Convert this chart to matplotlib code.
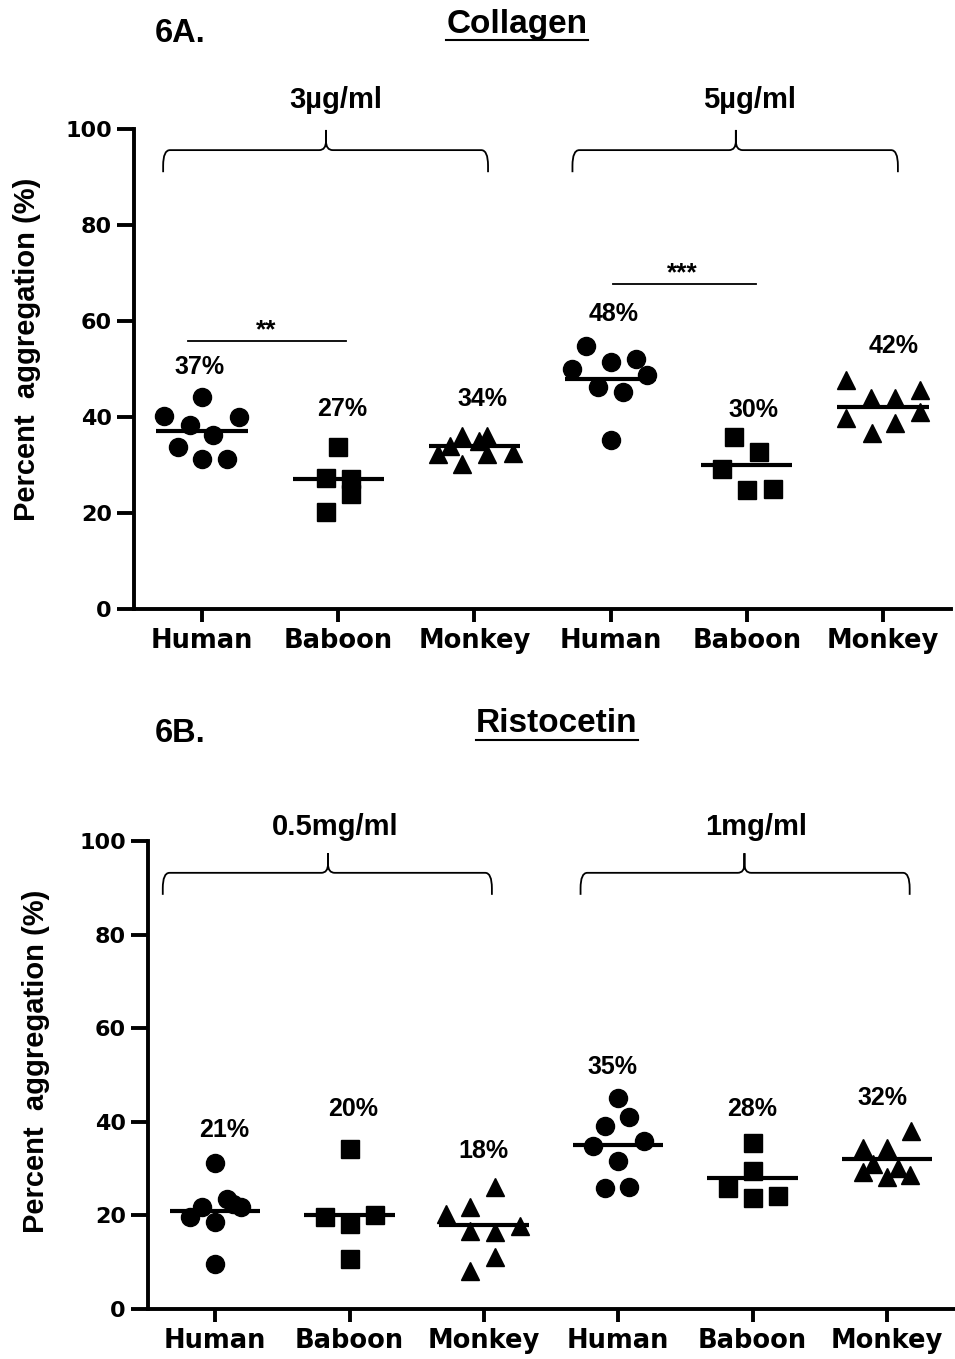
import matplotlib
matplotlib.use("Agg")
import matplotlib.pyplot as plt
from matplotlib.path import Path
from matplotlib.patches import PathPatch
from matplotlib.lines import Line2D

# ---------------- data ----------------
groups = ["Human", "Baboon", "Monkey", "Human", "Baboon", "Monkey"]

# Collagen (panel 6A): 3 ug/ml then 5 ug/ml
col_human_3 = [44.2, 40.2, 39.9, 38.3, 36.3, 33.8, 31.3, 31.3]
col_baboon_3 = [33.8, 27.2, 27.1, 23.9, 20.3]
col_monkey_3 = [32.3, 33.9, 36.0, 30.3, 35.0, 36.0, 32.2, 32.4]
col_human_5 = [54.8, 50.0, 51.4, 52.0, 48.8, 46.3, 45.3, 35.2]
col_baboon_5 = [35.9, 32.8, 29.2, 24.8, 25.1]
col_monkey_5 = [47.7, 43.9, 43.9, 45.6, 39.7, 36.6, 38.7, 41.1]
col_means = [37, 27, 34, 48, 30, 42]

# Ristocetin (panel 6B): 0.5 mg/ml then 1 mg/ml
ris_human_05 = [31.1, 21.8, 19.6, 23.5, 21.8, 18.6, 9.7, 22.5]
ris_baboon_05 = [34.1, 19.6, 18.2, 20.1, 10.6]
ris_monkey_05 = [20.3, 21.9, 26.0, 17.8, 16.7, 16.5, 11.1, 8.2]
ris_human_1 = [45.1, 41.0, 39.0, 34.9, 36.0, 31.7, 25.8, 26.0]
ris_baboon_1 = [35.5, 29.5, 25.8, 23.7, 24.2]
ris_monkey_1 = [38.0, 34.3, 34.3, 30.9, 29.3, 30.1, 28.3, 28.7]
ris_means = [21, 20, 18, 35, 28, 32]

col_doses = ["3\u00b5g/ml", "5\u00b5g/ml"]
ris_doses = ["0.5mg/ml", "1mg/ml"]

# ---------------- layout (horizontal scatter offsets, label spots) ----------------
col_offsets = [
    [0.0, -0.28, 0.27, -0.09, 0.08, -0.18, 0.0, 0.18],
    [0.0, -0.09, 0.09, 0.09, -0.09],
    [-0.27, -0.18, -0.09, -0.09, 0.03, 0.09, 0.09, 0.28],
    [-0.18, -0.28, 0.0, 0.19, 0.27, -0.09, 0.09, 0.0],
    [-0.09, 0.09, -0.18, 0.0, 0.19],
    [-0.27, -0.09, 0.09, 0.27, -0.27, -0.08, 0.09, 0.27],
]
ris_offsets = [
    [0.0, -0.10, -0.19, 0.09, 0.19, 0.0, 0.0, 0.13],
    [0.0, -0.18, 0.0, 0.19, 0.0],
    [-0.28, -0.10, 0.08, 0.27, -0.10, 0.08, 0.08, -0.10],
    [0.0, 0.08, -0.10, -0.19, 0.19, 0.0, -0.10, 0.08],
    [0.0, 0.0, -0.18, 0.0, 0.19],
    [0.18, -0.18, 0.0, -0.10, -0.18, 0.08, 0.0, 0.17],
]
col_label_pos = [(-0.02, 50.4), (1.03, 41.7), (2.06, 43.8),
                 (3.02, 61.5), (4.05, 41.5), (5.08, 54.8)]
ris_label_pos = [(0.07, 38.2), (1.03, 42.7), (2.0, 33.8),
                 (2.96, 51.7), (4.0, 42.7), (4.97, 45.1)]

markers = ["o", "s", "^", "o", "s", "^"]
marker_sizes = [13, 13.5, 13, 13, 13.5, 13]

BOLD = dict(family="Liberation Sans", fontweight="bold")

fig = plt.figure(figsize=(9.55, 13.59), dpi=100)
W, H = 955, 1359
axA = fig.add_axes([134 / W, 1 - 609 / H, (951 - 134) / W, 480 / H])
axB = fig.add_axes([148 / W, 1 - 1309 / H, (954 - 148) / W, 468 / H])


def brace(ax, x0, x1, xc, y_end, y_bar, y_peak):
    rx, ry = 0.05, (y_bar - y_end) * 0.7
    cx, cy = 0.05, (y_peak - y_bar) * 0.45
    verts = [
        (x0, y_end), (x0, y_bar - ry),
        (x0, y_bar), (x0 + rx, y_bar),
        (xc - cx, y_bar),
        (xc, y_bar), (xc, y_bar + cy),
        (xc, y_peak),
        (xc, y_bar + cy),
        (xc, y_bar), (xc + cx, y_bar),
        (x1 - rx, y_bar),
        (x1, y_bar), (x1, y_bar - ry),
        (x1, y_end),
    ]
    codes = [Path.MOVETO, Path.LINETO,
             Path.CURVE3, Path.CURVE3,
             Path.LINETO,
             Path.CURVE3, Path.CURVE3,
             Path.LINETO,
             Path.LINETO,
             Path.CURVE3, Path.CURVE3,
             Path.LINETO,
             Path.CURVE3, Path.CURVE3,
             Path.LINETO]
    ax.add_patch(PathPatch(Path(verts, codes), fill=False, lw=1.3,
                           color="black", clip_on=False, capstyle="butt"))


def draw_panel(ax, series, offsets, means, label_pos):
    for i, vals in enumerate(series):
        xs = [i + o for o in offsets[i]]
        ax.plot(xs, vals, linestyle="none", marker=markers[i],
                markersize=marker_sizes[i], color="black", clip_on=False,
                zorder=3)
        ax.plot([i - 0.335, i + 0.335], [means[i], means[i]], color="black",
                lw=3.0, solid_capstyle="butt", zorder=4)
        lx, ly = label_pos[i]
        ax.text(lx, ly, f"{means[i]}%", ha="center", va="center",
                fontsize=18, **BOLD)
    ax.set_xlim(-0.5, 5.5)
    ax.set_ylim(0, 100)
    ax.set_yticks([0, 20, 40, 60, 80, 100])
    ax.set_xticks(range(6))
    ax.set_xticklabels(groups)
    for s in ("top", "right"):
        ax.spines[s].set_visible(False)
    for s in ("left", "bottom"):
        ax.spines[s].set_linewidth(2.8)
    ax.tick_params(axis="x", width=2.8, length=9, direction="out",
                   pad=5, labelsize=18.5)
    ax.tick_params(axis="y", width=2.8, length=12, direction="out",
                   pad=4, labelsize=16)
    for lab in ax.get_xticklabels() + ax.get_yticklabels():
        lab.set_family("DejaVu Sans")
        lab.set_fontweight("bold")
    ax.set_ylabel("Percent  aggregation (%)", fontsize=21, **BOLD)


draw_panel(axA,
           [col_human_3, col_baboon_3, col_monkey_3,
            col_human_5, col_baboon_5, col_monkey_5],
           col_offsets, col_means, col_label_pos)
draw_panel(axB,
           [ris_human_05, ris_baboon_05, ris_monkey_05,
            ris_human_1, ris_baboon_1, ris_monkey_1],
           ris_offsets, ris_means, ris_label_pos)

axA.yaxis.set_label_coords(-0.114, 0.54)
axB.yaxis.set_label_coords(-0.121, 0.53)

# dose braces and labels
brace(axA, -0.286, 2.10, 0.91, 91.0, 95.6, 99.8)
brace(axA, 2.72, 5.11, 3.92, 91.0, 95.6, 99.8)
axA.text(0.98, 106.0, col_doses[0], ha="center", va="center", fontsize=21,
         clip_on=False, **BOLD)
axA.text(4.02, 106.0, col_doses[1], ha="center", va="center", fontsize=21,
         clip_on=False, **BOLD)

brace(axB, -0.39, 2.06, 0.84, 88.5, 93.2, 97.4)
brace(axB, 2.72, 5.17, 3.94, 88.5, 93.2, 97.4)
axB.text(0.89, 103.0, ris_doses[0], ha="center", va="center", fontsize=21,
         clip_on=False, **BOLD)
axB.text(4.03, 103.0, ris_doses[1], ha="center", va="center", fontsize=21,
         clip_on=False, **BOLD)

# significance bars
axA.plot([-0.10, 1.06], [55.8, 55.8], color="black", lw=1.3)
axA.text(0.47, 58.0, "**", ha="center", va="center", fontsize=19, **BOLD)
axA.plot([3.02, 4.07], [67.7, 67.7], color="black", lw=1.3)
axA.text(3.53, 70.0, "***", ha="center", va="center", fontsize=19, **BOLD)

# panel letters and underlined titles
fig.text(155 / W, 1 - 33 / H, "6A.", ha="left", va="center", fontsize=23.5, **BOLD)
fig.text(155 / W, 1 - 733 / H, "6B.", ha="left", va="center", fontsize=23.5, **BOLD)
tA = fig.text(517 / W, 1 - 24 / H, "Collagen", ha="center", va="center",
              fontsize=24, **BOLD)
tB = fig.text(557 / W, 1 - 723 / H, "Ristocetin", ha="center", va="center",
              fontsize=24, **BOLD)

fig.canvas.draw()
r = fig.canvas.get_renderer()
for t, uy in ((tA, 40), (tB, 740)):
    bb = t.get_window_extent(renderer=r)
    y = 1 - uy / H
    fig.add_artist(Line2D([bb.x0 / W, bb.x1 / W], [y, y], color="black",
                          lw=1.5, transform=fig.transFigure))

fig.savefig("out.png", dpi=100, facecolor="white")
